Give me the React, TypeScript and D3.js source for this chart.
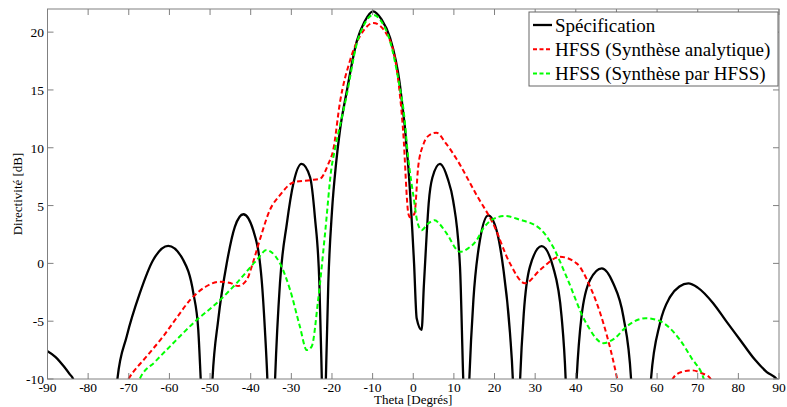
import React from "react";
import * as d3 from "d3";

type P = [number, number];

const xTicks = [-90, -80, -70, -60, -50, -40, -30, -20, -10, 0, 10, 20, 30, 40, 50, 60, 70, 80, 90];
const yTicks = [-10, -5, 0, 5, 10, 15, 20];

const legendLabels = ["Spécification", "HFSS (Synthèse analytique)", "HFSS (Synthèse par HFSS)"];

const specification: P[] = [
  [-90, -7.6], [-88, -8.1], [-86, -8.9], [-84.5, -9.6], [-83.7, -10], [-83, -12], [-78, -40],
  [-73.4, -12.5], [-72.8, -10], [-70.5, -6.3], [-67.3, -2.6], [-64, 0.29], [-60.3, 1.52], [-56.6, 0.29], [-54.1, -2.6], [-52.9, -5.75], [-52.3, -10], [-51.9, -13], [-50.8, -40],
  [-49.8, -13], [-49.4, -10], [-48, -4.9], [-45.9, 0], [-43.9, 3.16], [-41.8, 4.25], [-39.4, 2.9], [-37.3, -1.44], [-36.5, -5.75], [-35.9, -10], [-35.6, -13], [-35, -40],
  [-34.3, -13], [-34, -10], [-32.8, -1.72], [-31.1, 3.45], [-29.5, 6.9], [-27.5, 8.6], [-25.4, 7.47], [-24.2, 4.0], [-23.1, -1.72], [-22.5, -10], [-22.3, -13], [-22, -40],
  [-21.7, -13], [-21.5, -10], [-20.9, -1.7], [-20, 4.5], [-19, 8.6], [-18, 11.6], [-16.4, 14.8], [-13.9, 19.2], [-12, 20.9], [-9.9, 21.8], [-7.8, 21.1], [-5.7, 19.5], [-3.3, 15.5], [-1.2, 8.3], [0.2, 0], [0.84, -4.74],
  [2.06, -5.75], [2.6, -2], [3.3, 2.5], [3.8, 5.2], [4.7, 7.4], [6.57, 8.6], [8.5, 7.3], [9.8, 5.46], [11.5, -0.29], [12.3, -10], [12.6, -13], [13, -40],
  [13.5, -13], [13.8, -10], [14.8, -3.16], [16.4, 2.0], [18.45, 4.16], [20.5, 2.87], [22.1, -0.29], [23.8, -6.0], [24.5, -10], [24.8, -13], [25.4, -40],
  [26, -13], [26.3, -10], [27.2, -4.3], [28.7, -0.3], [31.6, 1.49], [34.4, -0.3], [36.5, -4.6], [37.5, -10], [37.8, -13], [38.8, -40],
  [39.8, -13], [40.2, -10], [41.4, -4.6], [43.5, -1.44], [46.4, -0.43], [49.2, -1.72], [51.7, -4.6], [53.6, -10], [54, -13], [56, -40],
  [58, -13], [58.5, -10], [60.7, -5.2], [63.2, -2.9], [65.5, -2.0], [67.7, -1.73], [70, -2.1], [73.8, -3.45], [77, -5], [80.4, -6.6], [84, -8.3], [87, -9.4], [89.4, -10], [90, -10.3],
];

const hfssAnalytic: P[] = [
  [-72, -11.2], [-70.1, -10], [-65.5, -8], [-61.5, -6.3], [-58, -4.6], [-54.9, -3.16], [-51, -2.0], [-47.6, -1.58], [-45, -1.7], [-43.1, -1.96], [-41, -1.44], [-39.5, 0], [-37.7, 2.1], [-35.3, 4.6],
  [-32.8, 5.9], [-29.5, 7.0], [-25.4, 7.2], [-23, 7.3], [-20.9, 8.6], [-19.7, 9.8], [-18, 14.0], [-15.6, 17.5], [-12.3, 20.1], [-9.84, 20.8], [-6.5, 19.8], [-4.1, 16.9], [-2.5, 11.5], [-1.2, 4.3], [-0.8, 4.0],
  [0.3, 4.3], [1.2, 8.3], [2.5, 10.3], [4, 11.1], [5.7, 11.3], [8, 10.4], [10.7, 9.0], [15.6, 5.9], [19.7, 3.4], [23.8, 0], [27.5, -1.72], [31.2, -0.57], [36.1, 0.57], [40.2, 0], [43.5, -2], [46.8, -5.2], [50, -9.7], [51, -11.5],
  [58, -30], [63, -11], [64, -9.9], [66, -9.4], [68.5, -9.25], [71, -9.5], [73, -9.9], [74, -11],
];

const hfssSynth: P[] = [
  [-68, -10.6], [-67.3, -10], [-63.5, -8.5], [-59.9, -7.2], [-53.3, -4.9], [-48.4, -3.45], [-43.5, -1.72], [-38.5, 0.29], [-36.1, 1.15], [-35, 1.0], [-32.8, 0], [-30.3, -2.3], [-27.9, -5.46], [-26.2, -7.5],
  [-25, -7.2], [-23.4, -3.16], [-21.7, 2.6], [-20.1, 8.3], [-19.3, 9.8], [-16.4, 14.5], [-13.9, 19.0], [-12, 20.7], [-9.9, 21.5], [-7.8, 20.9], [-5.7, 19.2], [-3.3, 15.2], [-2.4, 13.3], [-1.2, 9.0], [0.2, 5.46],
  [1.0, 3.6], [2.06, 2.87], [3.5, 3.4], [5.3, 3.73], [6.5, 3.4], [8.2, 2.6], [11.5, 1.0], [13.5, 1.3], [15.6, 2.0], [17.2, 3.0], [19.5, 3.8], [22.6, 4.1], [26, 3.8], [31.2, 3.0], [34.4, 1.43], [37.7, -1.15], [42.6, -5.2],
  [46.8, -6.9], [49.5, -6.5], [52.5, -5.46], [57.2, -4.74], [60.7, -5.0], [65.6, -6.6], [68.5, -8.2], [71.4, -9.9], [72, -10.6],
];

const W = 787;
const H = 407;
const left = 47.5;
const right = 779;
const top = 9;
const bottom = 379;

const font = "'Liberation Serif', 'Times New Roman', serif";

export default function App() {
  const x = d3.scaleLinear().domain([-90, 90]).range([left, right]);
  const y = d3.scaleLinear().domain([-10, 22]).range([bottom, top]);
  const line = d3
    .line<P>()
    .x((d) => x(d[0]))
    .y((d) => y(d[1]))
    .curve(d3.curveMonotoneX);

  const series = [
    { data: specification, color: "#000000", dash: undefined as string | undefined, width: 2.3 },
    { data: hfssAnalytic, color: "#ff0000", dash: "5,3", width: 2 },
    { data: hfssSynth, color: "#00ff00", dash: "5,3", width: 2 },
  ];

  const axisColor = "#808080";
  const tickLen = 6;

  const legX = 529;
  const legY = 12;
  const legW = 249;
  const legH = 74;

  return (
    <svg width={W} height={H} style={{ position: "absolute", left: 0, top: 0, background: "#fff" }}>
      <defs>
        <clipPath id="plotclip">
          <rect x={left} y={top} width={right - left} height={bottom - top} />
        </clipPath>
      </defs>
      <rect x={0} y={0} width={W} height={H} fill="#fff" />
      <g clipPath="url(#plotclip)">
        {series.map((s, i) => (
          <path
            key={i}
            d={line(s.data) || ""}
            fill="none"
            stroke={s.color}
            strokeWidth={s.width}
            strokeDasharray={s.dash}
            strokeLinejoin="round"
          />
        ))}
      </g>
      <rect x={left} y={top} width={right - left} height={bottom - top} fill="none" stroke={axisColor} strokeWidth={1} />
      {xTicks.map((t) => (
        <g key={"x" + t}>
          <line x1={x(t)} x2={x(t)} y1={bottom} y2={bottom - tickLen} stroke={axisColor} />
          <line x1={x(t)} x2={x(t)} y1={top} y2={top + tickLen} stroke={axisColor} />
          <text x={x(t)} y={392} textAnchor="middle" fontFamily={font} fontSize={13.5} fill="#000">
            {t}
          </text>
        </g>
      ))}
      {yTicks.map((t) => (
        <g key={"y" + t}>
          <line x1={left} x2={left + tickLen} y1={y(t)} y2={y(t)} stroke={axisColor} />
          <line x1={right} x2={right - tickLen} y1={y(t)} y2={y(t)} stroke={axisColor} />
          <text x={44} y={y(t) + 5} textAnchor="end" fontFamily={font} fontSize={13.5} fill="#000">
            {t}
          </text>
        </g>
      ))}
      <text x={(left + right) / 2} y={404} textAnchor="middle" fontFamily={font} fontSize={13} fill="#000">
        Theta [Degrés]
      </text>
      <text
        transform={`translate(22, ${(top + bottom) / 2}) rotate(-90)`}
        textAnchor="middle"
        fontFamily={font}
        fontSize={13}
        fill="#000"
      >
        Directivité [dB]
      </text>
      <rect x={legX} y={legY} width={legW} height={legH} fill="#fff" stroke="#666" strokeWidth={1} />
      {series.map((s, i) => {
        const baseY = 31.5 + i * 24.2;
        return (
          <g key={"leg" + i}>
            <line
              x1={533}
              x2={552}
              y1={baseY - 6.5}
              y2={baseY - 6.5}
              stroke={s.color}
              strokeWidth={s.width}
              strokeDasharray={s.dash ? "4,2.5" : undefined}
            />
            <text x={555} y={baseY} fontFamily={font} fontSize={19} fill="#000">
              {legendLabels[i]}
            </text>
          </g>
        );
      })}
    </svg>
  );
}
